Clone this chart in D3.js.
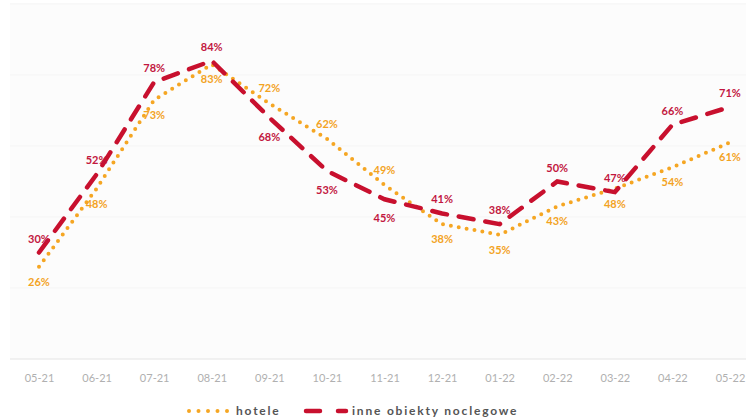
<!DOCTYPE html>
<html>
<head>
<meta charset="utf-8">
<script src="https://cdn.jsdelivr.net/npm/d3@7"></script>
<style>
  body { margin: 0; background: #fff; }
  svg { display: block; font-family: Lato, 'Open Sans', sans-serif; }
</style>
</head>
<body>
<div id="chart"></div>
<script>
// dane z wykresu (oblozenie w %)
const months = ['05-21', '06-21', '07-21', '08-21', '09-21', '10-21', '11-21', '12-21', '01-22', '02-22', '03-22', '04-22', '05-22']
const hotele = [26, 48, 73, 83, 72, 62, 49, 38, 35, 43, 48, 54, 61]
const inne = [30, 52, 78, 84, 68, 53, 45, 41, 38, 50, 47, 66, 71]
const yTicks = [0, 20, 40, 60, 80, 100]
// miesiace, w ktorych etykieta hoteli jest nad linia
const hoteleAbove = ['09-21', '10-21', '11-21']

const width = 746
const height = 420
const orange = '#f5a623'
const red = '#c8102e'

const svg = d3.select('#chart')
  .append('svg')
  .attr('width', width)
  .attr('height', height)

const x = d3.scalePoint()
  .domain(months)
  .range([39, 730])

const y = d3.scaleLinear()
  .domain([0, 100])
  .range([359, 4])

// tlo obszaru wykresu
svg.append('rect')
  .attr('x', 10)
  .attr('y', 3)
  .attr('width', width - 10)
  .attr('height', y(0) - 3)
  .attr('fill', '#fcfcfc')

svg.append('g')
  .selectAll('line')
  .data(yTicks.slice(1))
  .enter()
  .append('line')
  .attr('x1', 10)
  .attr('x2', width)
  .attr('y1', d => y(d))
  .attr('y2', d => y(d))
  .attr('stroke', '#f5f5f5')
  .attr('stroke-width', 1)

// os X
const xAxis = svg.append('g')
  .attr('transform', `translate(0,${y(0)})`)
  .call(d3.axisBottom(x).tickSize(0).tickPadding(15))
xAxis.select('.domain')
  .attr('d', `M10,0H${width}`)
  .attr('stroke', '#e4e4e4')
xAxis.selectAll('text')
  .attr('fill', '#b0b0b0')
  .style('font-size', '11px')
  .style('font-family', 'Lato, sans-serif')

const line = d3.line()
  .x((d, i) => x(months[i]))
  .y(d => y(d))

svg.append('path')
  .datum(hotele)
  .attr('d', line)
  .attr('fill', 'none')
  .attr('stroke', orange)
  .attr('stroke-width', 4)
  .attr('stroke-linecap', 'round')
  .attr('stroke-dasharray', '0,8')

svg.append('path')
  .datum(inne)
  .attr('d', line)
  .attr('fill', 'none')
  .attr('stroke', red)
  .attr('stroke-width', 4.5)
  .attr('stroke-linecap', 'round')
  .attr('stroke-dasharray', '15,12')

// etykiety wartosci
svg.append('g')
  .selectAll('text')
  .data(hotele)
  .enter()
  .append('text')
  .attr('x', (d, i) => x(months[i]))
  .attr('y', (d, i) => hoteleAbove.includes(months[i]) ? y(d) - 11 : y(d) + 19)
  .attr('text-anchor', 'middle')
  .attr('fill', '#f3a31f')
  .style('font-size', '11px')
  .style('font-weight', 'bold')
  .text(d => `${d}%`)

svg.append('g')
  .selectAll('text')
  .data(inne)
  .enter()
  .append('text')
  .attr('x', (d, i) => x(months[i]))
  .attr('y', (d, i) => hoteleAbove.includes(months[i]) ? y(d) + 23 : y(d) - 10)
  .attr('text-anchor', 'middle')
  .attr('fill', '#c2173f')
  .style('font-size', '11px')
  .style('font-weight', 'bold')
  .text(d => `${d}%`)

// legenda
const legend = svg.append('g')
  .attr('transform', 'translate(0,411)')

legend.append('line')
  .attr('x1', 189).attr('x2', 228)
  .attr('stroke', orange)
  .attr('stroke-width', 4)
  .attr('stroke-linecap', 'round')
  .attr('stroke-dasharray', '0,9.5')

legend.append('text')
  .attr('x', 236)
  .attr('y', 4)
  .attr('fill', '#555')
  .style('font-size', '12px')
  .style('font-weight', 'bold')
  .style('letter-spacing', '1.8px')
  .text('hotele')

legend.append('line')
  .attr('x1', 306).attr('x2', 346)
  .attr('stroke', red)
  .attr('stroke-width', 4.5)
  .attr('stroke-linecap', 'round')
  .attr('stroke-dasharray', '14,18')

legend.append('text')
  .attr('x', 352)
  .attr('y', 4)
  .attr('fill', '#555')
  .style('font-size', '12px')
  .style('font-weight', 'bold')
  .style('letter-spacing', '1.8px')
  .text('inne obiekty noclegowe')
</script>
</body>
</html>
